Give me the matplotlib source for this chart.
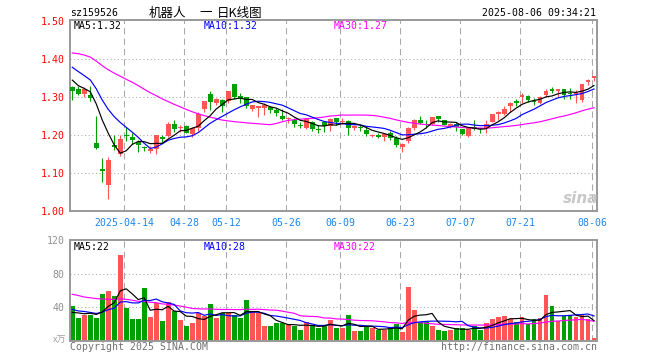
import numpy as np
import pandas as pd
import matplotlib
matplotlib.use("Agg")
import matplotlib.pyplot as plt

# --- data ---
opens = [1.325, 1.321, 1.309, 1.305, 1.180, 1.111, 1.069, 1.173, 1.151, 1.200,
         1.195, 1.182, 1.167, 1.157, 1.163, 1.194, 1.197, 1.228, 1.218, 1.224,
         1.203, 1.218, 1.268, 1.307, 1.283, 1.292, 1.290, 1.334, 1.302, 1.299,
         1.268, 1.271, 1.272, 1.274, 1.267, 1.250, 1.241, 1.240, 1.227, 1.218,
         1.234, 1.216, 1.234, 1.224, 1.245, 1.234, 1.237, 1.219, 1.222, 1.214,
         1.197, 1.200, 1.196, 1.204, 1.192, 1.168, 1.183, 1.218, 1.239, 1.229,
         1.228, 1.250, 1.240, 1.221, 1.230, 1.216, 1.197, 1.220, 1.218, 1.218,
         1.235, 1.256, 1.255, 1.275, 1.289, 1.301, 1.303, 1.290, 1.283, 1.304,
         1.321, 1.317, 1.320, 1.311, 1.307, 1.292, 1.339, 1.351]
closes = [1.317, 1.308, 1.322, 1.297, 1.165, 1.105, 1.134, 1.168, 1.189, 1.197,
          1.188, 1.173, 1.165, 1.163, 1.200, 1.190, 1.229, 1.215, 1.221, 1.206,
          1.218, 1.255, 1.289, 1.286, 1.294, 1.277, 1.316, 1.301, 1.298, 1.275,
          1.278, 1.275, 1.278, 1.266, 1.257, 1.242, 1.244, 1.228, 1.223, 1.241,
          1.216, 1.214, 1.224, 1.241, 1.234, 1.237, 1.218, 1.223, 1.219, 1.202,
          1.200, 1.196, 1.203, 1.193, 1.173, 1.177, 1.218, 1.240, 1.231, 1.226,
          1.247, 1.242, 1.226, 1.229, 1.222, 1.203, 1.220, 1.216, 1.215, 1.228,
          1.254, 1.260, 1.268, 1.285, 1.285, 1.305, 1.292, 1.287, 1.301, 1.317,
          1.317, 1.320, 1.305, 1.308, 1.310, 1.334, 1.346, 1.353]
highs = [1.329, 1.328, 1.327, 1.328, 1.251, 1.140, 1.142, 1.201, 1.199, 1.220,
         1.205, 1.187, 1.172, 1.171, 1.201, 1.200, 1.235, 1.240, 1.226, 1.226,
         1.222, 1.260, 1.290, 1.315, 1.298, 1.294, 1.317, 1.335, 1.311, 1.301,
         1.279, 1.277, 1.283, 1.277, 1.272, 1.268, 1.248, 1.245, 1.234, 1.244,
         1.236, 1.226, 1.237, 1.244, 1.246, 1.245, 1.240, 1.226, 1.227, 1.220,
         1.203, 1.204, 1.205, 1.211, 1.198, 1.180, 1.222, 1.242, 1.250, 1.240,
         1.248, 1.250, 1.240, 1.232, 1.235, 1.217, 1.222, 1.240, 1.218, 1.240,
         1.255, 1.262, 1.275, 1.288, 1.294, 1.310, 1.304, 1.297, 1.303, 1.320,
         1.327, 1.321, 1.322, 1.323, 1.318, 1.335, 1.347, 1.354]
lows = [1.292, 1.304, 1.301, 1.289, 1.163, 1.075, 1.031, 1.160, 1.146, 1.185,
        1.175, 1.155, 1.159, 1.153, 1.150, 1.182, 1.196, 1.209, 1.207, 1.204,
        1.194, 1.211, 1.260, 1.266, 1.279, 1.261, 1.285, 1.296, 1.285, 1.272,
        1.264, 1.247, 1.252, 1.257, 1.251, 1.239, 1.231, 1.222, 1.218, 1.215,
        1.211, 1.204, 1.209, 1.211, 1.226, 1.228, 1.200, 1.213, 1.211, 1.197,
        1.194, 1.192, 1.185, 1.187, 1.168, 1.156, 1.178, 1.213, 1.229, 1.218,
        1.225, 1.233, 1.225, 1.218, 1.211, 1.200, 1.195, 1.213, 1.206, 1.204,
        1.233, 1.240, 1.253, 1.261, 1.276, 1.285, 1.286, 1.279, 1.281, 1.301,
        1.310, 1.299, 1.294, 1.294, 1.285, 1.288, 1.332, 1.343]
volumes = [41, 27, 31, 31, 27, 56, 60, 53, 102, 39,
           26, 26, 63, 28, 45, 23, 46, 35, 25, 18,
           21, 33, 30, 44, 27, 33, 33, 31, 27, 49,
           34, 33, 17, 17, 21, 21, 20, 17, 13, 22,
           19, 15, 18, 25, 15, 15, 31, 12, 12, 16,
           15, 13, 13, 15, 20, 10, 64, 37, 22, 22,
           18, 13, 12, 13, 15, 15, 13, 18, 13, 21,
           26, 28, 30, 26, 22, 28, 20, 26, 27, 55,
           41, 23, 30, 31, 28, 32, 26, 3]
# days before the window (only feed the moving averages, not drawn)
prev_close = [1.36, 1.43, 1.46, 1.48, 1.47, 1.45, 1.44, 1.43, 1.44,
              1.42, 1.44, 1.45, 1.44, 1.43, 1.45, 1.44, 1.43, 1.42, 1.41, 1.40,
              1.42, 1.43, 1.41, 1.40, 1.40,
              1.38, 1.36, 1.34, 1.325]
prev_vol = [70, 85, 60, 55, 72, 66, 58, 80, 62, 57, 64, 70, 55, 61, 68, 59, 63, 60, 58, 67,
            45, 38, 42, 40, 40,
            30, 36, 28, 34]
tick_idx = [9, 19, 26, 36, 45, 55, 65, 75, 87]
tick_lbl = ["2025-04-14", "04-28", "05-12", "05-26", "06-09", "06-23", "07-07", "07-21", "08-06"]

RED = "#FF5555"
GREEN = "#00A000"
GRID = "#A8A8A8"
FRAME = "#999999"
MONO = "DejaVu Sans Mono"
FS = 7.1

n = len(closes)
x = np.arange(n)
o = np.array(opens); c = np.array(closes); h = np.array(highs); l = np.array(lows)
up = c >= o
cols = np.where(up, RED, GREEN)

pc = pd.Series(prev_close + closes)
pv = pd.Series(prev_vol + volumes)
k = len(prev_close)
ma_p = {w: pc.rolling(w).mean().values[k:] for w in (5, 10, 30)}
ma_v = {w: pv.rolling(w).mean().values[k:] for w in (5, 10, 30)}
ma_col = {5: "black", 10: "#0000FF", 30: "#FF00FF"}

W, H = 660, 360
fig = plt.figure(figsize=(6.6, 3.6), dpi=100)

def px(x0, y0, x1, y1):
    return [x0 / W, 1 - y1 / H, (x1 - x0) / W, (y1 - y0) / H]

ax = fig.add_axes(px(70, 20, 597.3, 211))
axv = fig.add_axes(px(70, 240.3, 597.3, 340.7))
xlim = (-0.38, 87.55)

for a in (ax, axv):
    a.set_xlim(*xlim)
    for s in a.spines.values():
        s.set_color(FRAME)
        s.set_linewidth(1.4)
    a.tick_params(length=0)
    for t in tick_idx:
        a.axvline(t - 0.35, color=GRID, lw=0.75, ls=(0, (6, 4)), zorder=0)

# price panel
ax.set_ylim(1.0, 1.5026)
ax.set_yticks([1.0, 1.1, 1.2, 1.3, 1.4, 1.5])
ax.set_yticklabels(["%.2f" % v for v in [1.0, 1.1, 1.2, 1.3, 1.4, 1.5]],
                   family=MONO, fontsize=FS, color="#FF0000")
ax.tick_params(axis="y", pad=4)
for v in [1.1, 1.2, 1.3, 1.4]:
    ax.axhline(v, color=GRID, lw=0.75, ls=(0, (1, 2.5)), zorder=0)
ax.set_xticks([t - 0.35 for t in tick_idx])
ax.set_xticklabels(tick_lbl, family=MONO, fontsize=FS, color="#1C86EE")
ax.tick_params(axis="x", pad=5)

body = np.maximum(np.abs(c - o), 0.003)
ax.vlines(x, l, h, colors=cols, lw=0.8, zorder=2)
ax.bar(x, body, bottom=np.minimum(o, c), width=0.82, color=cols, lw=0, zorder=3)
for w in (30, 10, 5):
    ax.plot(x, ma_p[w], color=ma_col[w], lw=0.85, zorder=4)

# volume panel
axv.set_ylim(0, 120)
axv.set_yticks([40, 80, 120])
axv.set_yticklabels(["40", "80", "120"], family=MONO, fontsize=FS, color="#909090")
axv.tick_params(axis="y", pad=4)
axv.set_xticks([])
for v in [40, 80]:
    axv.axhline(v, color=GRID, lw=0.75, ls=(0, (1, 2.5)), zorder=0)
axv.bar(x, volumes, width=0.82, color=cols, lw=0, zorder=2)
for w in (30, 10, 5):
    axv.plot(x, ma_v[w], color=ma_col[w], lw=0.85, zorder=4)

def txt(xp, yp, s, **kw):
    kw.setdefault("family", MONO)
    kw.setdefault("fontsize", FS)
    kw.setdefault("va", "center")
    fig.text(xp / W, 1 - yp / H, s, **kw)

# header
txt(70, 13, "sz159526")
cjk = ["Noto Sans CJK SC", "DejaVu Sans"]
txt(149, 13, "机器人", family=cjk, fontsize=9)
txt(199, 13, "一", family=cjk, fontsize=9)
txt(217, 13, "日K线图", family=cjk, fontsize=9)
txt(596.5, 13, "2025-08-06 09:34:21", ha="right")

# MA labels
txt(74, 26, "MA5:%.2f" % 1.32, color="black")
txt(204, 26, "MA10:%.2f" % 1.32, color="#0000FF")
txt(334, 26, "MA30:%.2f" % 1.27, color="#FF00FF")
txt(74, 246.5, "MA5:22", color="black")
txt(204, 246.5, "MA10:28", color="#0000FF")
txt(334, 246.5, "MA30:22", color="#FF00FF")
txt(66, 340, "x万", family=["Noto Sans CJK SC", "DejaVu Sans"], fontsize=6.5,
    color="#A0A0A0", ha="right")

# footer
txt(70, 346.5, "Copyright 2025 SINA.COM", color="#707070")
txt(596.5, 346.5, "http://finance.sina.com.cn", color="#707070", ha="right")

# sina watermark
txt(581, 198, "sina", family="DejaVu Sans", fontsize=11, weight="bold",
    style="italic", color="#C8C8C8", ha="center")

fig.savefig("out.png", dpi=100)
